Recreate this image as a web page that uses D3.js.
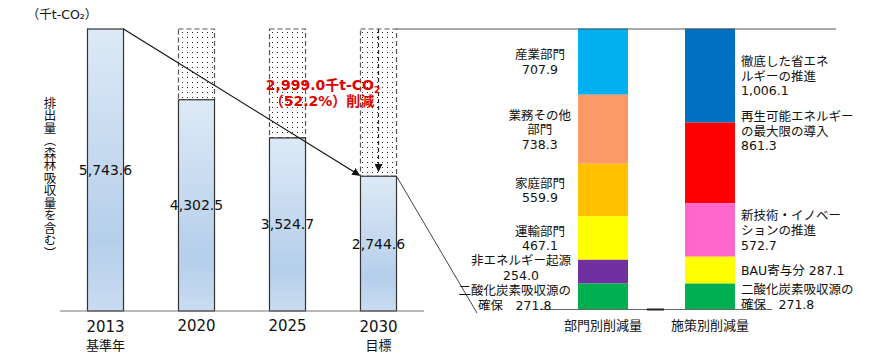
<!DOCTYPE html>
<html><head><meta charset="utf-8">
<script src="https://cdn.jsdelivr.net/npm/d3@7"></script>
<style>
html,body{margin:0;padding:0;background:#fff;}
svg{display:block;font-family:"DejaVu Sans","Noto Sans CJK JP",sans-serif;}
</style></head>
<body>
<svg id="chart" width="881" height="358"></svg>
<script>
// ---- data ----
const years = ["2013", "2020", "2025", "2030"];
const yearSub = ["基準年", "", "", "目標"];
const emissions = [5743.6, 4302.5, 3524.7, 2744.6];
const unitLabel = "（千t-CO₂）";
const yTitle = "排出量（森林吸収量を含む）";
const reductionTotal = 2999.0;
const reductionPct = 52.2;

const stackNames = ["部門別削減量", "施策別削減量"];
const sectorLabels = ["産業部門\n{v}", "業務その他\n部門\n{v}", "家庭部門\n{v}", "運輸部門\n{v}", "非エネルギー起源\n{v}", "二酸化炭素吸収源の\n確保　{v}"];
const sectorValues = [707.9, 738.3, 559.9, 467.1, 254.0, 271.8];
const sectorColors = ["#00b0f0", "#fa9966", "#ffc000", "#ffff00", "#7030a0", "#00b050"];
const policyLabels = ["徹底した省エネ\nルギーの推進\n{v}", "再生可能エネルギー\nの最大限の導入\n{v}", "新技術・イノベー\nションの推進\n{v}", "BAU寄与分  {v}", "二酸化炭素吸収源の\n確保　{v}"];
const policyValues = [1006.1, 861.3, 572.7, 287.1, 271.8];
const policyColors = ["#0070c0", "#ff0000", "#ff66cc", "#ffff00", "#00b050"];

// ---- drawing ----
const svg = d3.select("#chart");
const fmt = d3.format(",.1f");
const defs = svg.append("defs");

const grad = defs.append("linearGradient").attr("id", "barGrad")
  .attr("x1", 0).attr("y1", 0).attr("x2", 0).attr("y2", 1);
grad.append("stop").attr("offset", "0%").attr("stop-color", "#dde9f6");
grad.append("stop").attr("offset", "75%").attr("stop-color", "#b5cfea");
grad.append("stop").attr("offset", "100%").attr("stop-color", "#c9dcf1");

const pat = defs.append("pattern").attr("id", "dots").attr("patternUnits", "userSpaceOnUse")
  .attr("width", 5).attr("height", 5);
pat.append("rect").attr("width", 5).attr("height", 5).attr("fill", "#fff");
pat.append("rect").attr("x", 2).attr("y", 2).attr("width", 1).attr("height", 1).attr("fill", "#222");

defs.append("marker").attr("id", "arr").attr("viewBox", "0 0 10 10")
  .attr("refX", 9).attr("refY", 5).attr("markerWidth", 8).attr("markerHeight", 8)
  .attr("markerUnits", "userSpaceOnUse").attr("orient", "auto")
  .append("path").attr("d", "M0,0L10,5L0,10z").attr("fill", "#111");

// left chart scales
const x = d3.scaleBand().domain(years).range([60, 424]).paddingInner(0.604).paddingOuter(0.302);
const y = d3.scaleLinear().domain([0, emissions[0]]).range([311, 29]);
const bw = x.bandwidth();
const base = emissions[0];

// dotted reduction areas
svg.append("g").selectAll("rect").data(years.slice(1)).join("rect")
  .attr("x", d => x(d)).attr("width", bw)
  .attr("y", y(base)).attr("height", (d, i) => y(emissions[i + 1]) - y(base))
  .attr("fill", "url(#dots)").attr("stroke", "#555").attr("stroke-width", 1.2)
  .attr("stroke-dasharray", "5,3");

// solid bars
svg.append("g").selectAll("rect").data(years).join("rect")
  .attr("x", d => x(d)).attr("width", bw)
  .attr("y", (d, i) => y(emissions[i])).attr("height", (d, i) => y(0) - y(emissions[i]))
  .attr("fill", "url(#barGrad)").attr("stroke", "#333").attr("stroke-width", 1.2);

// value labels
svg.append("g").selectAll("text").data(years).join("text")
  .attr("x", d => x(d) + bw / 2).attr("y", (d, i) => (y(emissions[i]) + y(0)) / 2 + 5)
  .attr("text-anchor", "middle").attr("font-size", 14).attr("fill", "#111")
  .text((d, i) => fmt(emissions[i]));

// baseline (left)
svg.append("line").attr("x1", 60).attr("x2", 424).attr("y1", y(0)).attr("y2", y(0))
  .attr("stroke", "#777").attr("stroke-width", 1);

// x labels
const xl = svg.append("g");
xl.selectAll("text.yr").data(years).join("text").attr("class", "yr")
  .attr("x", d => x(d) + bw / 2).attr("y", (d, i) => yearSub[i] ? 332 : 331)
  .attr("text-anchor", "middle").attr("font-size", 15).attr("fill", "#111").text(d => d);
xl.selectAll("text.sub").data(years.filter((d, i) => yearSub[i])).join("text").attr("class", "sub")
  .attr("x", d => x(d) + bw / 2).attr("y", 350)
  .attr("text-anchor", "middle").attr("font-size", 13).attr("fill", "#111")
  .text(d => yearSub[years.indexOf(d)]);

// unit label
svg.append("text").attr("x", 62).attr("y", 19).attr("text-anchor", "middle")
  .attr("font-size", 12.5).attr("fill", "#111")
  .text(unitLabel);

// y title (vertical)
svg.append("text").attr("x", 50).attr("y", 178).attr("text-anchor", "middle")
  .style("writing-mode", "vertical-rl").attr("font-size", 12.5).attr("fill", "#111")
  .attr("font-family", "Noto Sans CJK JP").text(yTitle);

// main arrow
const last = years[years.length - 1];
svg.append("line")
  .attr("x1", x(years[0]) + bw).attr("y1", y(base))
  .attr("x2", x(last) - 1).attr("y2", y(emissions[3]) - 1)
  .attr("stroke", "#111").attr("stroke-width", 1.2).attr("marker-end", "url(#arr)");

// dashed arrow inside 2030
svg.append("line")
  .attr("x1", x(last) + bw / 2).attr("x2", x(last) + bw / 2)
  .attr("y1", y(base)).attr("y2", y(emissions[3]) - 5)
  .attr("stroke", "#222").attr("stroke-width", 1.2).attr("stroke-dasharray", "4,3")
  .attr("marker-end", "url(#arr)");

// red annotation
const ann = svg.append("text").attr("x", 323).attr("y", 90).attr("text-anchor", "middle")
  .attr("font-size", 14).attr("font-weight", "bold").attr("fill", "#e00000");
ann.append("tspan").text(fmt(reductionTotal) + "千t-CO");
ann.append("tspan").attr("font-size", 9).attr("dy", 3).text("2");
svg.append("text").attr("x", 322).attr("y", 106).attr("text-anchor", "middle")
  .attr("font-size", 14).attr("font-weight", "bold").attr("fill", "#e00000")
  .text("（" + reductionPct + "%）削減");

// ---- right chart ----
const xr = d3.scaleBand().domain(stackNames).range([549.5, 763.5]).paddingInner(0.533).paddingOuter(0.2665);
const yr = d3.scaleLinear().domain([0, reductionTotal]).range([309, 28.5]);
const rbw = xr.bandwidth();

// stack from top: first item sits at the top
function stackData(vals) {
  const total = d3.sum(vals);
  let acc = 0;
  return vals.map(v => { const s = { y1: total - acc, y0: total - acc - v, v }; acc += v; return s; });
}
const sectorStack = stackData(sectorValues);
const policyStack = stackData(policyValues);

function drawStack(stack, colors, name) {
  svg.append("g").selectAll("rect").data(stack).join("rect")
    .attr("x", xr(name)).attr("width", rbw)
    .attr("y", d => yr(d.y1)).attr("height", d => yr(d.y0) - yr(d.y1))
    .attr("fill", (d, i) => colors[i]);
}
drawStack(sectorStack, sectorColors, stackNames[0]);
drawStack(policyStack, policyColors, stackNames[1]);

// connecting lines
svg.append("line").attr("x1", x(last) + bw).attr("x2", 836).attr("y1", y(base)).attr("y2", y(base))
  .attr("stroke", "#555").attr("stroke-width", 1);
svg.append("line").attr("x1", x(last) + bw).attr("y1", y(emissions[3]))
  .attr("x2", 477).attr("y2", 313).attr("stroke", "#444").attr("stroke-width", 1);

// baseline right
svg.append("line").attr("x1", 540).attr("x2", 772).attr("y1", yr(0) + 0.5).attr("y2", yr(0) + 0.5)
  .attr("stroke", "#666").attr("stroke-width", 1);
svg.append("line").attr("x1", xr(stackNames[0]) + rbw + 19).attr("x2", xr(stackNames[1]) - 21)
  .attr("y1", yr(0) + 0.5).attr("y2", yr(0) + 0.5).attr("stroke", "#222").attr("stroke-width", 2);

const lh = 14.6;
// sector labels (left of bar 1)
const sl = svg.append("g").attr("font-size", 12.5).attr("fill", "#111");
sectorStack.forEach((d, i) => {
  const lines = sectorLabels[i].replace("{v}", fmt(d.v)).split("\n");
  const nudge = i === 4 ? -4 : (i === 5 ? 1 : 0);
  const cy = (yr(d.y0) + yr(d.y1)) / 2 + nudge;
  const t = sl.append("text").attr("text-anchor", "middle");
  lines.forEach((ln, k) => {
    t.append("tspan").attr("x", 0).attr("y", cy + (k - (lines.length - 1) / 2) * lh + 5).text(ln);
  });
  let maxW = 0;
  t.selectAll("tspan").each(function () { maxW = Math.max(maxW, this.getComputedTextLength()); });
  const cx = Math.min(540, xr(stackNames[0]) - 7 - maxW / 2);
  t.selectAll("tspan").attr("x", cx);
});

// policy labels (right of bar 2)
const pl = svg.append("g").attr("font-size", 12.5).attr("fill", "#111");
policyStack.forEach((d, i) => {
  const lines = policyLabels[i].replace("{v}", fmt(d.v)).split("\n");
  const nudge = i === 1 ? -32 : 0;
  const cy = (yr(d.y0) + yr(d.y1)) / 2 + nudge;
  const t = pl.append("text").attr("text-anchor", "start");
  lines.forEach((ln, k) => {
    t.append("tspan").attr("x", xr(stackNames[1]) + rbw + 6)
      .attr("y", cy + (k - (lines.length - 1) / 2) * lh + 5).text(ln);
  });
});

// stack names
svg.append("g").selectAll("text").data(stackNames).join("text")
  .attr("x", d => xr(d) + rbw / 2).attr("y", 330).attr("text-anchor", "middle")
  .attr("font-size", 13).attr("fill", "#111").text(d => d);
</script>
</body></html>
